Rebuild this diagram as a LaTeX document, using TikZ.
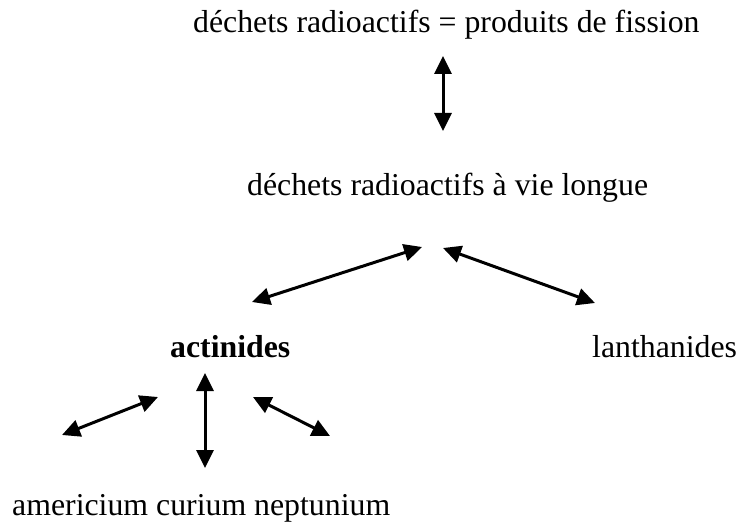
\documentclass[tikz,border=0pt]{standalone}
\usepackage{fontspec}
\setmainfont{Liberation Serif}
\usetikzlibrary{arrows.meta}
\begin{document}
\begin{tikzpicture}[x=1pt,y=-1pt,
  lbl/.style={inner sep=0pt,anchor=base west,font=\fontsize{31.8}{36}\selectfont},
  dbl/.style={line width=3pt,{Triangle[length=18pt,width=17pt]}-{Triangle[length=18pt,width=17pt]}}]
\useasboundingbox (0,0) rectangle (738,524);
\node[lbl] (top) at (193,33) {déchets radioactifs = produits de fission};
\node[lbl] (vie) at (247,195) {déchets radioactifs à vie longue};
\node[lbl,font=\fontsize{31.8}{36}\selectfont\bfseries] (act) at (170,357) {actinides};
\node[lbl] (lan) at (592,357) {lanthanides};
\node[lbl] (ame) at (12,515) {americium curium neptunium};
\coordinate (a1) at (443,56);
\coordinate (a2) at (443,131);
\coordinate (b1) at (422,247);
\coordinate (b2) at (252,302);
\coordinate (c1) at (443,248);
\coordinate (c2) at (595,303);
\coordinate (d1) at (158,397);
\coordinate (d2) at (62,435);
\coordinate (e1) at (205,373);
\coordinate (e2) at (205,468);
\coordinate (f1) at (253,397);
\coordinate (f2) at (330,436);
\draw[dbl] (a1) -- (a2);
\draw[dbl] (b1) -- (b2);
\draw[dbl] (c1) -- (c2);
\draw[dbl] (d1) -- (d2);
\draw[dbl] (e1) -- (e2);
\draw[dbl] (f1) -- (f2);
\end{tikzpicture}
\end{document}
